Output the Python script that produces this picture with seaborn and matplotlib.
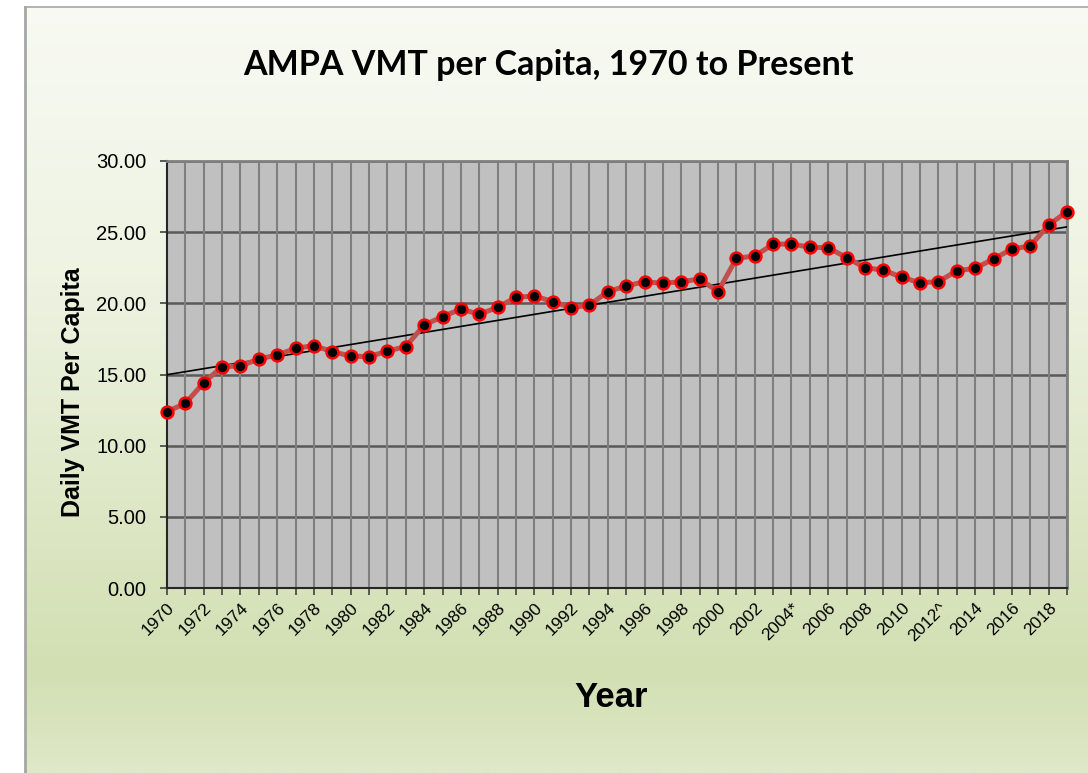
import numpy as np
import pandas as pd
import matplotlib
matplotlib.use("Agg")
import matplotlib.pyplot as plt
from matplotlib.colors import LinearSegmentedColormap
import seaborn as sns

# ---- data ----
years = list(range(1970, 2020))
vmt = [12.39, 12.97, 14.43, 15.55, 15.60, 16.09, 16.37, 16.84, 17.03, 16.60,
       16.30, 16.25, 16.65, 16.96, 18.48, 19.06, 19.60, 19.23, 19.72, 20.42,
       20.52, 20.12, 19.70, 19.88, 20.82, 21.22, 21.52, 21.41, 21.52, 21.71,
       20.82, 23.16, 23.33, 24.15, 24.17, 23.94, 23.91, 23.21, 22.50, 22.34,
       21.83, 21.45, 21.52, 22.29, 22.46, 23.12, 23.82, 24.03, 25.50, 26.44]
tick_labels = [str(y) if (y - 1970) % 2 == 0 else "" for y in years]
tick_labels[years.index(2004)] = "2004*"
tick_labels[years.index(2012)] = "2012^"
y_ticks = [0, 5, 10, 15, 20, 25, 30]

title = "AMPA VMT per Capita, 1970 to Present"
xlabel = "Year"
ylabel = "Daily VMT Per Capita"

df = pd.DataFrame({"year": years, "vmt": vmt})

sns.set_theme(style="white")
plt.rcParams["font.family"] = ["Liberation Sans", "DejaVu Sans"]

W, H = 1088, 773
fig = plt.figure(figsize=(W / 100, H / 100), dpi=100)
fig.patch.set_facecolor("white")

# background gradient panel
bg = fig.add_axes([25 / W, 0, 1 - 25 / W, 1 - 7 / H], zorder=0)
cmap = LinearSegmentedColormap.from_list(
    "bg", [(0.0, "#f8faf3"), (0.35, "#eef3e2"), (0.87, "#d2dfb2"), (1.0, "#dfe8c9")])
grad = np.linspace(0, 1, 256).reshape(-1, 1)
bg.imshow(grad, aspect="auto", cmap=cmap, extent=[0, 1, 0, 1], origin="upper")
bg.set_xlim(0, 1)
bg.set_ylim(0, 1)
bg.set_xticks([])
bg.set_yticks([])
for s in ["right", "bottom"]:
    bg.spines[s].set_visible(False)
bg.spines["left"].set_color("#a6a6a6")
bg.spines["left"].set_linewidth(2)
bg.spines["top"].set_color("#a6a6a6")
bg.spines["top"].set_linewidth(1.2)

# main axes
ax = fig.add_axes([167 / W, 1 - 588 / H, (1067 - 167) / W, (588 - 161) / H], zorder=1)
ax.set_facecolor("#c0c0c0")

# trend line (least squares fit of the data)
coef = np.polyfit(df["year"], df["vmt"], 1)
trend_x = np.array([years[0], years[-1]])
ax.plot(trend_x, np.polyval(coef, trend_x), color="black", lw=1.2, zorder=3)

sns.lineplot(data=df, x="year", y="vmt", ax=ax, color="#c0504d", lw=3.6,
             marker="o", markersize=8.5, markerfacecolor="black",
             markeredgecolor="#ff0000", markeredgewidth=1.8, zorder=4,
             clip_on=False)

ax.set_xlim(years[0], years[-1])
ax.set_ylim(0, 30)
ax.set_yticks(y_ticks)
ax.set_yticklabels([f"{v:.2f}" for v in y_ticks], fontsize=14.5, color="black")
ax.set_xticks(years)
ax.set_xticklabels(tick_labels, rotation=45, ha="right", rotation_mode="anchor",
                   fontsize=12.5, color="black")

ax.grid(False)
for yv in y_ticks[1:]:
    ax.axhline(yv, color="#595959", lw=1.8, zorder=1)
for xv in years[1:]:
    ax.axvline(xv, color="#7f7f7f", lw=1.5, zorder=1)

ax.tick_params(axis="both", which="both", direction="out", length=5, width=1.2,
               color="#404040", left=True, bottom=True)
ax.tick_params(axis="y", pad=10)
ax.tick_params(axis="x", pad=4)
for s in ["left", "bottom"]:
    ax.spines[s].set_color("#262626")
    ax.spines[s].set_linewidth(1.5)
for s in ["top", "right"]:
    ax.spines[s].set_color("#7f7f7f")
    ax.spines[s].set_linewidth(2)

ax.set_xlabel("")
ax.set_ylabel("")
fig.text(73 / W, 1 - 392 / H, ylabel, rotation=90, ha="center", va="center",
         fontsize=18, fontweight="bold", color="black")
fig.text(611 / W, 1 - 707 / H, xlabel, ha="center", va="baseline",
         fontsize=25, fontweight="bold", color="black")
fig.text(548 / W, 1 - 75 / H, title, ha="center", va="baseline",
         fontsize=24.5, fontweight="bold", color="black", family=["Lato", "DejaVu Sans"])

fig.savefig("out.png", dpi=100)
